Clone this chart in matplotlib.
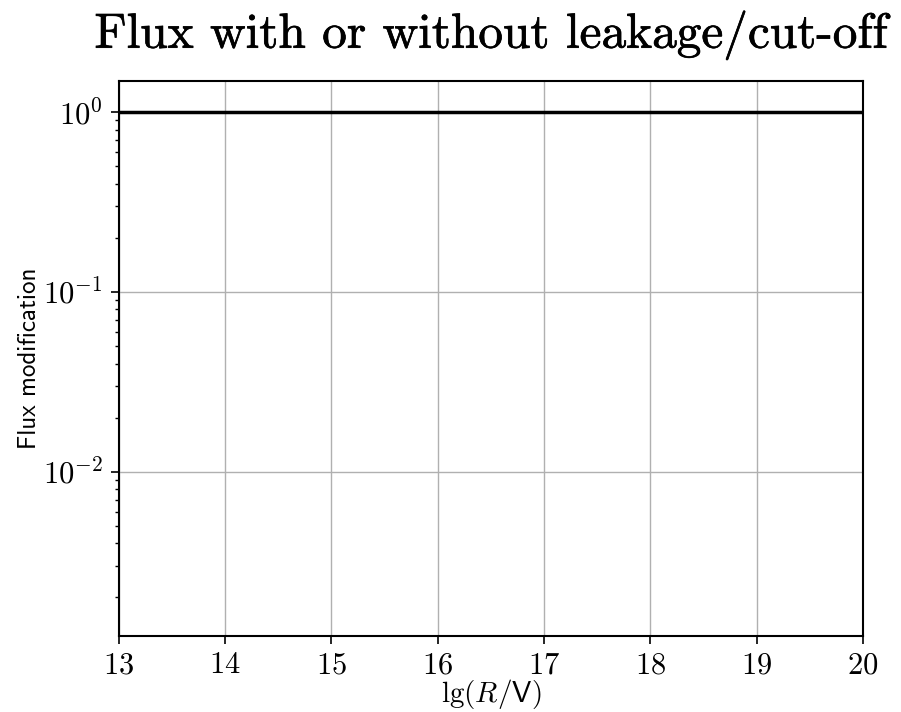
import matplotlib
matplotlib.use("Agg")
import matplotlib.pyplot as plt
import matplotlib.patheffects as pe

# Flux modification versus lg(R/V)
lg_rigidity = [13, 20]
flux_modification = [1.0, 1.0]

x_ticks = [13, 14, 15, 16, 17, 18, 19, 20]

plt.rcParams["mathtext.fontset"] = "cm"
plt.rcParams["font.family"] = "cmr10"
plt.rcParams["axes.formatter.use_mathtext"] = True

fig = plt.figure(figsize=(9.01, 7.12), dpi=100)
ax = fig.add_axes([0.132, 0.1067, 0.8257, 0.7795])

ax.plot(lg_rigidity, flux_modification, color="black", lw=2.5, zorder=3)
ax.set_yscale("log")
ax.set_xlim(13, 20)
ax.set_ylim(1.22e-3, 1.49)
ax.set_xticks(x_ticks)

ax.grid(True, which="major", color="#b0b0b0", lw=1.0)
ax.tick_params(axis="both", which="major", labelsize=22, length=5.5,
               width=1.2, pad=6)
ax.tick_params(axis="both", which="minor", length=3, width=1.0)
for sp in ax.spines.values():
    sp.set_linewidth(1.5)

xlab = ax.set_xlabel(r"$\mathrm{lg}(R/\mathsf{V})$", fontsize=21)
xlab.set_verticalalignment("center")
ax.xaxis.set_label_coords(0.5, -0.105)
ax.set_ylabel("Flux modification", fontsize=18, family="cmss10", labelpad=1)
ax.set_title("Flux with or without leakage/cut-off", fontsize=35.5, pad=24,
             path_effects=[pe.withStroke(linewidth=0.5, foreground="black")])

fig.savefig("out.png", dpi=100)
